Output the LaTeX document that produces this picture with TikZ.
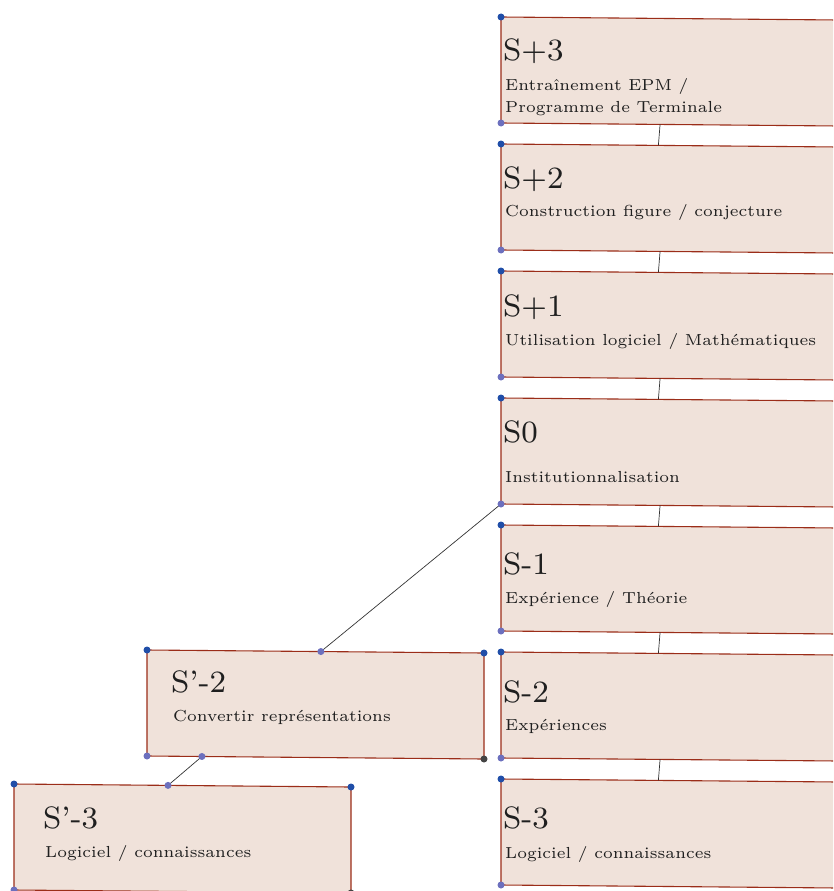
\documentclass[tikz,border=0pt]{standalone}
\usepackage{fontspec}
\newfontfamily\labelfont[Ligatures=TeX]{lmroman6-regular.otf}
\newfontfamily\stepfont[Ligatures=TeX]{lmroman8-regular.otf}
\usetikzlibrary{calc}
\definecolor{boxfill}{RGB}{240,226,218}
\definecolor{boxline}{RGB}{155,45,25}
\definecolor{freeblue}{RGB}{32,78,168}
\definecolor{pathblue}{RGB}{108,112,190}
\definecolor{depgray}{RGB}{68,68,68}

\begin{document}
\begin{tikzpicture}[x=1pt, y=-1pt,
    box/.style={draw=boxline, fill=boxfill, line width=1.1pt},
    link/.style={draw=black!80, line width=0.7pt},
    pt/.style={circle, inner sep=0pt, minimum size=7pt},
    title/.style={anchor=base west, inner sep=0pt, text=black!88, font=\stepfont\fontsize{31}{37}\selectfont},
    sub/.style={anchor=base west, inner sep=0pt, text=black!88, align=left, font=\labelfont\fontsize{16}{22}\selectfont}]
    \useasboundingbox (0,0) rectangle (833,891);
    \clip (0,0) rectangle (833,891);

    % Boxes (top left corner)
    \foreach \n/\x/\y/\a/\b in {Sp3/501/17/0.472/0.467, Sp2/501/144/0.472/0.467, Sp1/501/271/0.472/0.467,
        S0/501/398/0.472/0.467, Sm1/501/525/0.472/0.467, Sm2/501/652/0.472/0.467, Sm3/501/779/0.472/0.467,
        Tm2/147/650/0.163/0.516, Tm3/14/784/0.163/0.457} {
        \coordinate (\n-tl) at (\x,\y);
        \coordinate (\n-tr) at (\x+337,\y+3);
        \coordinate (\n-br) at (\x+337,\y+109);
        \coordinate (\n-bl) at (\x,\y+106);
        \coordinate (\n-bot) at ($(\n-bl)!\a!(\n-br)$);
        \coordinate (\n-top) at ($(\n-tl)!\b!(\n-tr)$);
        \draw[box] (\n-tl) -- (\n-tr) -- (\n-br) -- (\n-bl) -- cycle;
    }

    % Texts
    \node[title] (Sp3-t) at ($(Sp3-tl)+(2,43)$) {S+3};
    \node[sub] (Sp3-s) at ($(Sp3-tl)+(4,95)$) {Entraînement EPM /\\Programme de Terminale};
    \node[title] (Sp2-t) at ($(Sp2-tl)+(2,44)$) {S+2};
    \node[sub] (Sp2-s) at ($(Sp2-tl)+(4,72)$) {Construction figure / conjecture};
    \node[title] (Sp1-t) at ($(Sp1-tl)+(2,45)$) {S+1};
    \node[sub] (Sp1-s) at ($(Sp1-tl)+(4,74)$) {Utilisation logiciel / Mathématiques};
    \node[title] (S0-t) at ($(S0-tl)+(2,44)$) {S0};
    \node[sub] (S0-s) at ($(S0-tl)+(4,84)$) {Institutionnalisation};
    \node[title] (Sm1-t) at ($(Sm1-tl)+(2,49)$) {S-1};
    \node[sub] (Sm1-s) at ($(Sm1-tl)+(4,78)$) {Expérience / Théorie};
    \node[title] (Sm2-t) at ($(Sm2-tl)+(2,50)$) {S-2};
    \node[sub] (Sm2-s) at ($(Sm2-tl)+(4,78)$) {Expériences};
    \node[title] (Sm3-t) at ($(Sm3-tl)+(2,49)$) {S-3};
    \node[sub] (Sm3-s) at ($(Sm3-tl)+(4,79)$) {Logiciel / connaissances};
    \node[title] (Tm2-t) at ($(Tm2-tl)+(24,42)$) {S'-2};
    \node[sub] (Tm2-s) at ($(Tm2-tl)+(26,71)$) {Convertir représentations};
    \node[title] (Tm3-t) at ($(Tm3-tl)+(29,44)$) {S'-3};
    \node[sub] (Tm3-s) at ($(Tm3-tl)+(31,73)$) {Logiciel / connaissances};

    % Links
    \foreach \u/\v in {Sp3/Sp2, Sp2/Sp1, Sp1/S0, S0/Sm1, Sm1/Sm2, Sm2/Sm3} {
        \draw[link] (\u-bot) -- (\v-top);
    }
    \draw[link] (S0-bl) -- (Tm2-top);
    \draw[link] (Tm2-bot) -- (Tm3-top);

    % Points
    \foreach \n in {Sp3, Sp2, Sp1, S0, Sm1, Sm2, Sm3, Tm2, Tm3} {
        \node[pt, fill=freeblue] (\n-p1) at (\n-tl) {};
        \node[pt, fill=pathblue] (\n-p2) at (\n-bl) {};
    }
    \foreach \n in {Tm2, Tm3} {
        \node[pt, fill=freeblue] (\n-p3) at (\n-tr) {};
        \node[pt, fill=depgray] (\n-p4) at (\n-br) {};
        \node[pt, fill=pathblue] (\n-p5) at (\n-top) {};
    }
    \node[pt, fill=pathblue] (Tm2-p6) at (Tm2-bot) {};
\end{tikzpicture}
\end{document}
